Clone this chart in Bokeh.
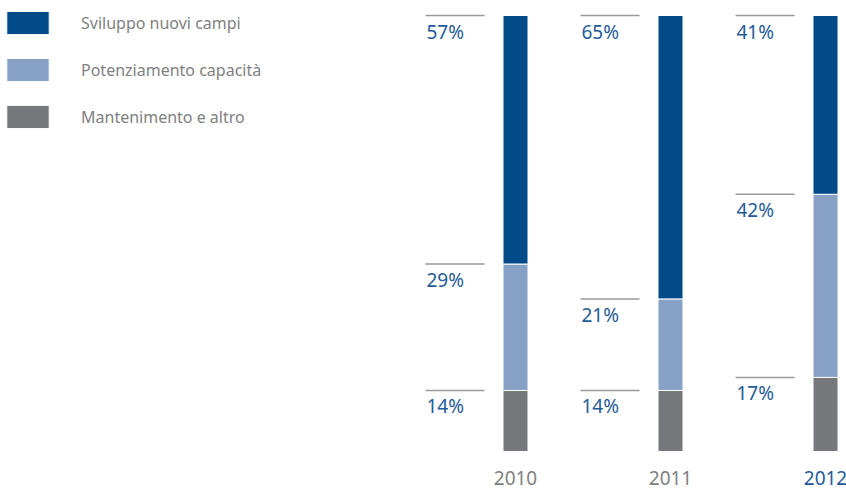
from bokeh.plotting import figure
from bokeh.models import Range1d, ColumnDataSource, Legend, LegendItem
from bokeh.core.properties import value
from bokeh.embed import file_html
from bokeh.resources import INLINE

# ---- data ----
years = ["2010", "2011", "2012"]
sviluppo = [57, 65, 41]          # Sviluppo nuovi campi (top)
potenziamento = [29, 21, 42]     # Potenziamento capacità (middle)
mantenimento = [14, 14, 17]      # Mantenimento e altro (bottom)
series_names = ["Sviluppo nuovi campi", "Potenziamento capacità", "Mantenimento e altro"]
highlight_year = "2012"

# ---- style ----
FONT = "Noto Sans"
C_DARK = "#004b87"
C_LIGHT = "#87a1c6"
C_GRAY = "#77787b"
TXT_BLUE = "#1f5b98"
TXT_GRAY = "#808080"
RULE = "#9a9a9a"
W, H = 846, 491
PX = 1 / 155.0  # one screen pixel in x data units
PY = 1 / 4.36   # one screen pixel in y data units

xs = list(range(len(years)))
m_top = list(mantenimento)
p_top = [m + p for m, p in zip(mantenimento, potenziamento)]
s_top = [a + s for a, s in zip(p_top, sviluppo)]

p = figure(width=W, height=H,
           x_range=Range1d(-515 * PX, (W - 515) * PX),
           y_range=Range1d(-(H - 451) * PY, 451 * PY),
           output_backend="svg", toolbar_location=None, min_border=0)
p.axis.visible = False
p.grid.visible = False
p.outline_line_color = None

bw = 25 * PX
r_m = p.vbar(x=xs, bottom=0, top=m_top, width=bw, fill_color=C_GRAY,
             line_color="white", line_width=1)
r_p = p.vbar(x=xs, bottom=m_top, top=p_top, width=bw, fill_color=C_LIGHT,
             line_color="white", line_width=1)
r_s = p.vbar(x=xs, bottom=p_top, top=s_top, width=bw, fill_color=C_DARK,
             line_color="white", line_width=1)

# label rules and percentages at the top of each segment
lx0, lx1, ly, lt = [], [], [], []
for i in xs:
    for top, v in ((s_top[i], sviluppo[i]), (p_top[i], potenziamento[i]), (m_top[i], mantenimento[i])):
        lx0.append(i - 90 * PX)
        lx1.append(i - 31 * PX)
        ly.append(top)
        lt.append(f"{v}%")
lsrc = ColumnDataSource(dict(x0=lx0, x1=lx1, y=ly, t=lt))
p.segment(x0="x0", y0="y", x1="x1", y1="y", source=lsrc, line_color=RULE, line_width=1.5)
p.text(x="x0", y="y", text="t", source=lsrc, text_font=value(FONT),
       text_font_size="19px", text_color=TXT_BLUE, text_baseline="alphabetic",
       x_offset=1, y_offset=16)

# year labels
ysrc = ColumnDataSource(dict(
    x=xs, y=[0] * len(years), t=years,
    c=[TXT_BLUE if yr == highlight_year else TXT_GRAY for yr in years]))
p.text(x="x", y="y", text="t", source=ysrc, text_font=value(FONT),
       text_font_size="19px", text_color="c", text_align="center",
       text_baseline="alphabetic", y_offset=26)

legend = Legend(items=[LegendItem(label=series_names[0], renderers=[r_s]),
                       LegendItem(label=series_names[1], renderers=[r_p]),
                       LegendItem(label=series_names[2], renderers=[r_m])],
                location=(1, H - 8 - 123), orientation="vertical",
                glyph_width=53, glyph_height=29, label_standoff=27, spacing=18,
                padding=0, margin=0, border_line_color=None,
                background_fill_alpha=0,
                label_text_font=FONT, label_text_font_size="16px",
                label_text_color=TXT_GRAY)
p.add_layout(legend)

open("out.html", "w").write(file_html(p, INLINE))
